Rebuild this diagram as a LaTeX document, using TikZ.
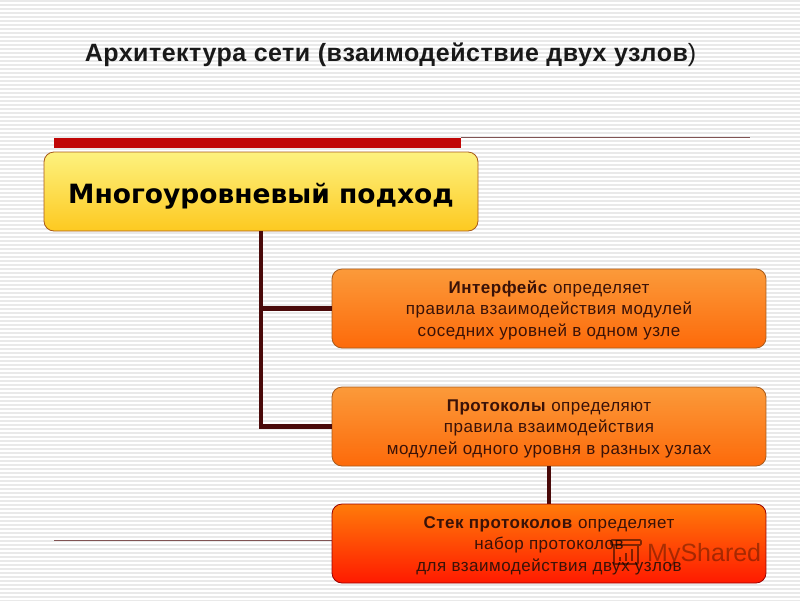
\documentclass[tikz,border=0pt]{standalone}
\usepackage{fontspec}
\setmainfont{Liberation Sans}
\newfontfamily\verd{DejaVu Sans}
\newfontfamily\bodyf[LetterSpace=3]{Liberation Sans}
\newfontfamily\titlef[LetterSpace=2]{Liberation Sans}
\definecolor{edgeo}{HTML}{A85A1A}
\definecolor{conn}{HTML}{4A0A0A}
\definecolor{barred}{HTML}{C00606}
\definecolor{stripe}{HTML}{E9E9E9}
\definecolor{txt}{HTML}{3A1208}
\definecolor{ytop}{HTML}{FDF27F}
\definecolor{ybot}{HTML}{FDC920}
\tikzset{
  boxbase/.style={rounded corners=10pt,draw=edgeo,line width=0.8pt,align=center,inner sep=0pt,minimum width=434pt,minimum height=79pt},
  yellowbox/.style={boxbase,top color=ytop,bottom color=ybot},
  orangebox/.style={boxbase,top color={rgb,255:red,251;green,154;blue,58},bottom color={rgb,255:red,253;green,106;blue,10},font=\bodyf\fontsize{17}{21.5}\selectfont,text=txt},
  redbox/.style={boxbase,draw=red!60!black,top color={rgb,255:red,255;green,123;blue,10},bottom color={rgb,255:red,255;green,26;blue,0},font=\bodyf\fontsize{17}{21.5}\selectfont,text=txt},
  linkline/.style={draw=conn,line width=4.5pt},
  thinrule/.style={draw=conn!70!white,line width=0.8pt}
}
\newcommand{\lowerstrut}{\rule{0pt}{16pt}}
\begin{document}
\begin{tikzpicture}[x=1pt,y=-1pt]
\useasboundingbox (0,0) rectangle (800,600);
\fill[white] (0,0) rectangle (800,600);
\foreach \i in {0,...,150} \draw[stripe,line width=1.2pt] (0,{\i*4+1}) -- (800,{\i*4+1});
\node[inner sep=0pt,anchor=center,font=\titlef\bfseries\fontsize{25}{29}\selectfont,text=black!90] (title) at (390.5,55) {Архитектура сети (взаимодействие двух узлов\mdseries)};
\coordinate (barA) at (54,142.5);
\coordinate (barB) at (461,142.5);
\coordinate (ruleA) at (750,137.5);
\coordinate (ruleB) at (461,137.5);
\coordinate (lowA) at (54,540.5);
\draw[barred,line width=10pt] (barA) -- (barB);
\draw[thinrule] (ruleB) -- (ruleA);
\node[yellowbox] (main) at (261,191.5) {\verd\bfseries\fontsize{26.5}{30}\selectfont\rule{0pt}{30pt}Многоуровневый подход};
\node[orangebox] (iface) at (549,308.5) {\lowerstrut\textbf{Интерфейс} определяет\\правила взаимодействия модулей\\соседних уровней в одном узле};
\node[orangebox] (proto) at (549,426.5) {\lowerstrut\textbf{Протоколы} определяют\\правила взаимодействия\\модулей одного уровня в разных узлах};
\coordinate (trunk) at (261,231);
\draw[linkline] (trunk) -- (trunk |- proto.west) -- (proto.west);
\draw[linkline] (trunk |- iface.west) -- (iface.west);
\draw[linkline] (proto.south) -- (549,504);
\draw[thinrule] (lowA) -- (332,540.5);
\node[redbox] (stack) at (549,543.5) {\lowerstrut\textbf{Стек протоколов} определяет\\набор протоколов\\для взаимодействия двух узлов};
\node[inner sep=0pt,anchor=west,text=black,opacity=0.35,font=\fontsize{25}{28}\selectfont] (mark) at (647,555) {MyShared};
\draw[black,opacity=0.5,line width=1.6pt,rounded corners=1pt] (611,540) -- (641,540) -- (641,545) -- (611,545) -- cycle (614,545) -- (614,564) -- (638,564) -- (638,545);
\draw[black,opacity=0.5,line width=2.5pt] (620,561) -- (620,557) (626,561) -- (626,553) (632,561) -- (632,549);
\end{tikzpicture}
\end{document}
